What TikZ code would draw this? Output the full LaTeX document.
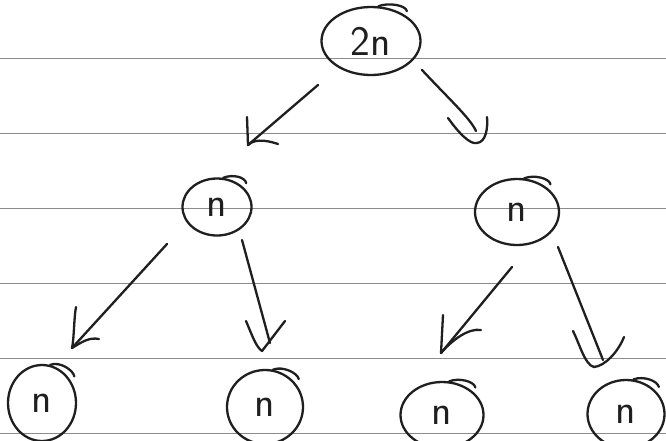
\documentclass[tikz,border=0pt]{standalone}
\usetikzlibrary{shapes.geometric,calc}
\tikzset{
  pen/.style={line width=2.3pt, draw=black!88, line cap=round, line join=round},
  rule/.style={line width=0.9pt, draw=black!45},
  bubble/.style={ellipse, pen, inner sep=0pt, font=\sffamily\fontsize{42}{42}\selectfont, text=black!88},
}
\newcommand{\pencurl}[1]{\draw[pen] (#1.78) .. controls +(10,-4) and +(-1,-6) .. ($(#1.42)+(5,-2)$);}
\begin{document}
\begin{tikzpicture}[x=1pt,y=-1pt]
\useasboundingbox (0,0) rectangle (666,440);
\clip (0,0) rectangle (666,440);
\fill[white] (0,0) rectangle (666,440);
% ruled lines
\foreach \yy in {58,133,208,283,358,433} \draw[rule] (0,\yy) -- (666,\yy);
% nodes
\node[bubble, minimum width=99, minimum height=68] (top) at (371,41) {2n};
\node[bubble, minimum width=69, minimum height=57] (ml) at (217,207) {n};
\node[bubble, minimum width=84, minimum height=66] (mr) at (517,212) {n};
\node[bubble, minimum width=68, minimum height=76] (b1) at (42,403) {n};
\node[bubble, minimum width=76, minimum height=74] (b2) at (265,407) {n};
\node[bubble, minimum width=83, minimum height=66] (b3) at (442,415) {n};
\node[bubble, minimum width=77, minimum height=68] (b4) at (626,414) {n};
\foreach \nn in {top,ml,mr,b1,b2,b3,b4} {\pencurl{\nn}}
% connector end points
\coordinate (a1s) at (318,85);  \coordinate (a1t) at (248,145);
\coordinate (a2s) at (422,70);  \coordinate (a2t) at (477,143);
\coordinate (a3s) at (167,244); \coordinate (a3t) at (72,348);
\coordinate (a4s) at (242,240); \coordinate (a4t) at (262,351);
\coordinate (a5s) at (512,267); \coordinate (a5t) at (441,353);
\coordinate (a6s) at (558,247); \coordinate (a6t) at (594,367);
% top -> ml
\draw[pen] (a1s) -- (a1t);
\draw[pen] (a1t) ++(-1,-28) -- (a1t) .. controls +(8,-8) and +(-6,-2) .. ++(30,-1);
% top -> mr
\draw[pen] (a2s) .. controls (450,100) and (470,118) .. (476,131);
\draw[pen] (448,118) .. controls (458,132) and (470,145) .. (a2t) .. controls (486,142) and (488,128) .. (487,117);
% ml -> b1
\draw[pen] (a3s) -- (a3t);
\draw[pen] (a3t) ++(4,-41) .. controls +(-2,10) and +(2,-8) .. (a3t) .. controls +(10,-6) and +(-10,-2) .. ++(27,-9);
% ml -> b2
\draw[pen] (a4s) -- (270,343);
\draw[pen] (246,321) .. controls (252,335) and (256,347) .. (a4t) -- (285,321);
% mr -> b3
\draw[pen] (a5s) -- (a5t);
\draw[pen] (a5t) ++(2,-38) -- (a5t) .. controls +(12,-14) and +(-12,-2) .. ++(40,-23);
% mr -> b4
\draw[pen] (a6s) -- (603,360);
\draw[pen] (573,331) .. controls (580,345) and (585,365) .. (a6t) .. controls (605,366) and (618,352) .. (624,337);
\end{tikzpicture}
\end{document}
